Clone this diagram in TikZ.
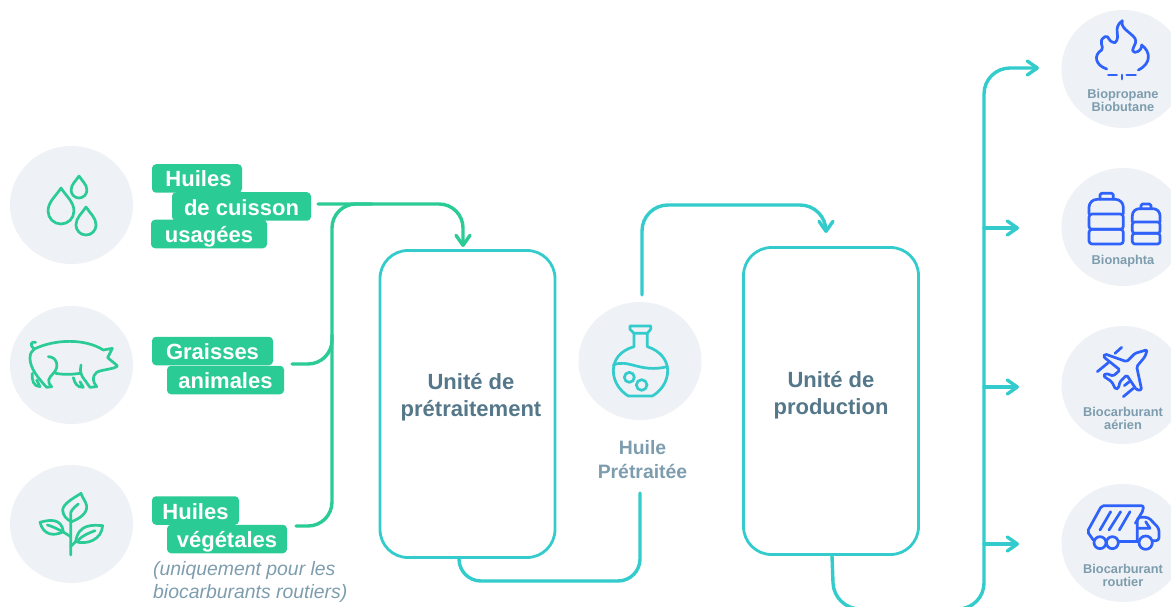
\documentclass[tikz,border=0pt]{standalone}
\usepackage{fontspec}
\setmainfont{Liberation Sans}
\usetikzlibrary{arrows.meta,shapes.geometric}
\definecolor{flowteal}{HTML}{33CBCB}
\definecolor{feedgreen}{HTML}{2BCB96}
\definecolor{fuelblue}{HTML}{2F62FB}
\definecolor{discgray}{HTML}{EEF1F5}
\definecolor{unittext}{HTML}{54778A}
\definecolor{softtext}{HTML}{7D9DAE}
\tikzset{
  disc/.style={ellipse,fill=discgray,minimum width=123,minimum height=118,inner sep=0},
  tag/.style={fill=feedgreen,rounded corners=4,text=white,inner sep=0,minimum height=28.5,
    text height=17,text depth=0,font=\fontsize{22}{22}\selectfont\bfseries},
  unitbox/.style={draw=flowteal,line width=2.8,rounded corners=28,minimum width=175,minimum height=307,inner sep=0},
  unitlabel/.style={text=unittext,align=center,font=\fontsize{22}{27}\selectfont\bfseries},
  smalllabel/.style={text=softtext,align=center,font=\fontsize{12.8}{13}\selectfont\bfseries},
  greenflow/.style={draw=feedgreen,line width=3.4,line cap=round,rounded corners=24},
  tealflow/.style={draw=flowteal,line width=3.4,line cap=round,rounded corners=26},
  tealarrow/.style={tealflow,-{Straight Barb[length=10,width=14,round]}},
  greenicon/.style={draw=feedgreen,line width=2.7,line cap=round,line join=round},
  tealicon/.style={draw=flowteal,line width=2.7,line cap=round,line join=round},
  blueicon/.style={draw=fuelblue,line width=2.7,line cap=round,line join=round},
}
\begin{document}
\begin{tikzpicture}[x=1pt,y=-1pt]
  \useasboundingbox (0,0) rectangle (1171,607);

  \node[disc] (oildisc) at (71.5,205) {};
  \node[disc] (pigdisc) at (71.5,365) {};
  \node[disc] (plantdisc) at (71.5,524) {};
  \node[disc] (flaskdisc) at (640,361) {};
  \node[disc] (flamedisc) at (1123,69) {};
  \node[disc] (bottledisc) at (1123,227) {};
  \node[disc] (planedisc) at (1123,385) {};
  \node[disc] (truckdisc) at (1123,543) {};

  \node[tag,minimum width=90] (huiles) at (197,178.5) {\hspace{3pt}Huiles};
  \node[tag,minimum width=116] (usagees) at (209,234) {usagées};
  \node[tag,minimum width=139] (cuisson) at (241.5,206.5) {de cuisson};
  \node[tag,minimum width=121] (graisses) at (212.5,351) {Graisses};
  \node[tag,minimum width=117] (animales) at (225.5,380) {animales};
  \node[tag,minimum width=87] (vhuiles) at (195.5,510.5) {Huiles};
  \node[tag,minimum width=120] (vegetales) at (227,539) {végétales};
  \node[text=softtext,align=left,anchor=north west,inner sep=0,
    font=\fontsize{19.4}{23}\selectfont\itshape] (note) at (153,561)
    {(uniquement pour les\\biocarburants routiers)};

  \node[unitbox] (pretraitement) at (467.5,404) {};
  \node[unitbox] (production) at (831,401) {};
  \node[unitlabel] (pretraitementlabel) at (471,397) {Unité de\\prétraitement};
  \node[unitlabel] (productionlabel) at (831,395) {Unité de\\production};
  \node[text=softtext,align=center,font=\fontsize{19.4}{24}\selectfont\bfseries] (huilelabel) at (642.5,460) {Huile\\Prétraitée};

  \node[smalllabel] (flamelabel) at (1123,100.5) {Biopropane\\Biobutane};
  \node[smalllabel] (naphtalabel) at (1123,261) {Bionaphta};
  \node[smalllabel] (aerienlabel) at (1123,418.5) {Biocarburant\\aérien};
  \node[smalllabel] (routierlabel) at (1123,575.5) {Biocarburant\\routier};

  \coordinate (cuissonout) at (318,204);
  \coordinate (pretin) at (463,247);
  \coordinate (graissesout) at (292,364);
  \coordinate (vegetalesout) at (296,526);
  \coordinate (greenjoin) at (332,204);
  \coordinate (greenend) at (372,204);
  \coordinate (graissesup) at (332,335);
  \coordinate (pretout) at (459,558);
  \coordinate (pretlow) at (640,581);
  \coordinate (huilein) at (640,493);
  \coordinate (huileout) at (642,295);
  \coordinate (huiletop) at (642,205);
  \coordinate (prodin) at (826,233);
  \coordinate (prodout) at (832,556);
  \coordinate (prodlow) at (834,609);
  \coordinate (mainlow) at (984,609);
  \coordinate (maintop) at (984,68);
  \coordinate (flamein) at (1039,68);
  \coordinate (bottlein) at (1019,228);
  \coordinate (planein) at (1019,387);
  \coordinate (truckin) at (1019,544);
  \coordinate (bottlefoot) at (984,228);
  \coordinate (planefoot) at (984,387);
  \coordinate (truckfoot) at (984,544);

  \draw[greenflow,-{Straight Barb[length=10,width=14,round]}] (cuissonout) -| (pretin);
  \draw[greenflow] (vegetalesout) -| (greenjoin) -- (greenend);
  \draw[greenflow] (graissesout) -| (graissesup);

  \draw[tealflow,rounded corners=22] (pretout) |- (pretlow) -- (huilein);
  \draw[tealarrow] (huileout) -- (huiletop) -| (prodin);
  \draw[tealarrow] (prodout) -- (prodlow) -- (mainlow) -- (maintop) -- (flamein);
  \draw[tealarrow] (bottlefoot) -- (bottlein);
  \draw[tealarrow] (planefoot) -- (planein);
  \draw[tealarrow] (truckfoot) -- (truckin);

  \foreach \dx/\dy/\ds in {61/188/36,79/176/22,86/207/28}
    \draw[greenicon,shift={(\dx,\dy)},scale=\ds]
      (0,0) .. controls (-.12,.2) and (-.36,.38) .. (-.36,.64)
      .. controls (-.36,.84) and (-.2,1) .. (0,1)
      .. controls (.2,1) and (.36,.84) .. (.36,.64)
      .. controls (.36,.38) and (.12,.2) .. cycle;

  \begin{scope}[shift={(25,335)},scale=1/3]
    \draw[greenicon] (28,42) .. controls (12,30) and (18,18) .. (32,22);
    \draw[greenicon] (28,42) .. controls (90,12) and (180,10) .. (235,45) -- (262,40) -- (248,68) -- (277,92)
      .. controls (275,102) and (230,103) .. (215,112)
      .. controls (200,125) and (203,140) .. (215,155) -- (195,157) -- (172,125)
      .. controls (165,110) and (165,100) .. (168,90);
    \draw[greenicon] (70,65) .. controls (95,65) and (105,95) .. (85,115)
      .. controls (70,130) and (65,140) .. (80,155) -- (65,157)
      .. controls (40,130) and (15,100) .. (15,70) .. controls (15,55) and (20,48) .. (28,42);
    \draw[greenicon] (92,115) .. controls (120,120) and (145,118) .. (165,115);
    \draw[greenicon] (22,115) .. controls (20,135) and (25,155) .. (45,155) -- (35,135);
    \draw[greenicon] (145,128) .. controls (150,145) and (155,157) .. (175,157) -- (165,140);
  \end{scope}

  \begin{scope}[shift={(30,490)},scale=1/3]
    \draw[greenicon] (122,195) -- (122,70) .. controls (122,65) and (128,55) .. (145,42);
    \draw[greenicon] (153,10) .. controls (130,25) and (100,40) .. (98,60)
      .. controls (98,75) and (110,90) .. (125,95)
      .. controls (150,85) and (172,70) .. (170,48)
      .. controls (168,35) and (158,25) .. (153,10) -- cycle;
    \draw[greenicon] (30,97) .. controls (60,88) and (95,85) .. (100,125)
      .. controls (70,140) and (40,135) .. (30,97) -- cycle;
    \draw[greenicon] (52,105) .. controls (70,110) and (95,122) .. (122,140);
    \draw[greenicon] (218,107) .. controls (190,105) and (145,100) .. (137,155)
      .. controls (170,165) and (215,150) .. (218,107) -- cycle;
    \draw[greenicon] (145,150) .. controls (160,135) and (175,130) .. (195,122);
    \draw[greenicon] (122,170) -- (137,155);
  \end{scope}

  \begin{scope}[shift={(560,190)},scale=1/3]
    \draw[tealicon] (210,408) -- (272,408) -- (272,418) -- (262,430) -- (222,430) -- (210,418) -- cycle;
    \draw[tealicon] (222,430) -- (222,470) .. controls (180,482) and (160,510) .. (160,542)
      .. controls (160,575) and (180,603) .. (205,618) -- (277,618)
      .. controls (303,603) and (323,575) .. (323,542)
      .. controls (323,510) and (300,482) .. (262,470) -- (262,430);
    \draw[tealicon] (160,525) .. controls (205,505) and (240,550) .. (322,530);
    \draw[tealicon] (208,562) circle (15);
    \draw[tealicon] (245,585) circle (16);
  \end{scope}

  \begin{scope}[shift={(960,0)},scale=1/3]
    \draw[blueicon] (440,207) .. controls (405,195) and (400,165) .. (425,150)
      .. controls (435,140) and (410,125) .. (435,110)
      .. controls (450,105) and (440,125) .. (465,128)
      .. controls (485,110) and (455,85) .. (487,62)
      .. controls (480,85) and (510,95) .. (525,115)
      .. controls (535,135) and (505,150) .. (525,157)
      .. controls (540,155) and (545,145) .. (545,135)
      .. controls (572,155) and (575,190) .. (535,210);
    \draw[blueicon] (445,225) -- (470,225);
    \draw[blueicon] (500,225) -- (527,225);
    \draw[blueicon] (486,225) -- (486,237);
  \end{scope}

  \begin{scope}[shift={(1085,190)},scale=1/3]
    \draw[blueicon,rounded corners=1.5] (45,28) -- (45,10) -- (85,10) -- (85,28);
    \draw[blueicon,rounded corners=8] (12,72) -- (12,28) -- (115,28) -- (115,72);
    \draw[blueicon,rounded corners=3] (12,72) -- (115,72) -- (115,118) -- (12,118) -- cycle;
    \draw[blueicon,rounded corners=3] (12,118) -- (115,118) -- (115,162) -- (12,162) -- cycle;
    \draw[blueicon,rounded corners=1.5] (168,56) -- (168,42) -- (198,42) -- (198,56);
    \draw[blueicon,rounded corners=7] (142,96) -- (142,56) -- (225,56) -- (225,96);
    \draw[blueicon,rounded corners=2.5] (142,96) -- (225,96) -- (225,130) -- (142,130) -- cycle;
    \draw[blueicon,rounded corners=2.5] (142,130) -- (225,130) -- (225,162) -- (142,162) -- cycle;
  \end{scope}

  \begin{scope}[shift={(1085,340)},scale=1/3]
    \draw[blueicon,rounded corners=1.5] (187,29) -- (150,40) -- (125,65) -- (60,42) -- (55,50) -- (105,90)
      -- (85,108) -- (62,100) -- (55,108) -- (80,125) -- (92,148) -- (100,145) -- (105,125) -- (125,105)
      -- (155,150) -- (170,150) -- (155,80) -- (180,50) -- cycle;
    \draw[blueicon] (90,40) -- (110,22);
    \draw[blueicon] (37,95) -- (70,68);
    \draw[blueicon] (115,170) -- (145,145);
    \draw[blueicon] (118,137) -- (133,125);
  \end{scope}

  \begin{scope}[shift={(1080,495)},scale=1/3]
    \draw[blueicon,rounded corners=2] (40,135) -- (22,110) -- (65,32) -- (190,32) -- (190,45) -- (166,85);
    \draw[blueicon] (60,105) -- (92,50);
    \draw[blueicon] (87,105) -- (122,50);
    \draw[blueicon] (118,105) -- (150,50);
    \draw[blueicon,rounded corners=3] (172,140) -- (172,67) -- (205,67) -- (237,100) -- (237,137) -- (218,137);
    \draw[blueicon] (176,100) -- (210,100) -- (197,80);
    \draw[blueicon] (115,140) -- (177,140);
    \draw[blueicon] (60,143) circle (18);
    \draw[blueicon] (97,143) circle (18);
    \draw[blueicon] (197,143) circle (20);
  \end{scope}
\end{tikzpicture}
\end{document}
